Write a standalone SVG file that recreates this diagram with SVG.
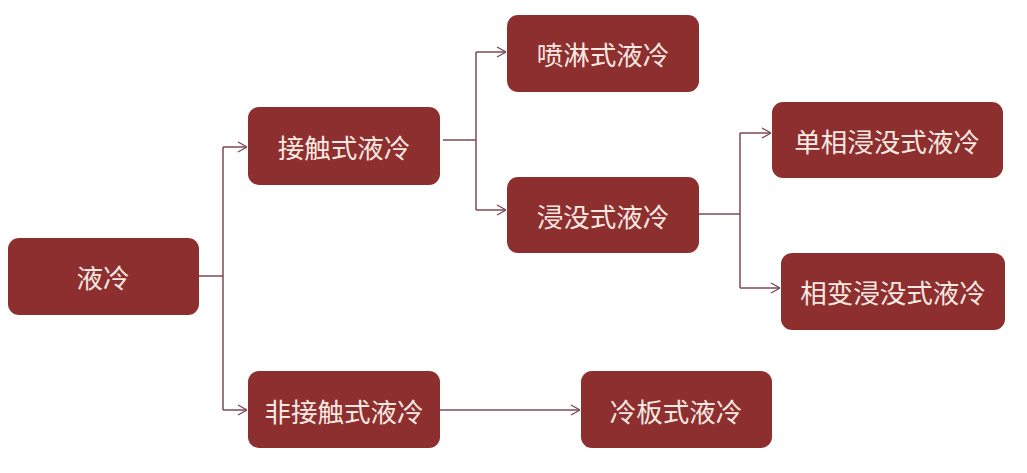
<svg xmlns="http://www.w3.org/2000/svg" width="1027" height="473" viewBox="0 0 1027 473">
<defs>
<marker id="arr" viewBox="0 0 10 12" refX="10" refY="6" markerWidth="10" markerHeight="12" markerUnits="userSpaceOnUse" orient="auto">
<path d="M1,1 L10,6 L1,11" fill="none" stroke="#7d4a52" stroke-width="1.4"/>
</marker>
</defs>
<style>
.box{fill:#8e2f2f;}
.t{font-family:"Noto Sans CJK SC","Noto Sans",sans-serif;font-size:26.5px;font-weight:400;fill:#f7e9e2;text-anchor:middle;dominant-baseline:central;}
.c{fill:none;stroke:#7d4a52;stroke-width:1.5;}
</style>
<rect width="1027" height="473" fill="#ffffff"/>
<g id="connectors">
<path class="c" d="M199,276 H223"/>
<path class="c" d="M223,147 V410"/>
<path class="c" d="M223,147 H247" marker-end="url(#arr)"/>
<path class="c" d="M223,410 H247" marker-end="url(#arr)"/>
<path class="c" d="M443,140 H476"/>
<path class="c" d="M476,52 V210"/>
<path class="c" d="M476,52 H506" marker-end="url(#arr)"/>
<path class="c" d="M476,210 H506" marker-end="url(#arr)"/>
<path class="c" d="M698,214 H740"/>
<path class="c" d="M740,133 V288"/>
<path class="c" d="M740,133 H771" marker-end="url(#arr)"/>
<path class="c" d="M740,288 H780" marker-end="url(#arr)"/>
<path class="c" d="M440,410 H580" marker-end="url(#arr)"/>
</g>
<g id="n1"><rect class="box" x="8" y="238" width="191" height="77" rx="11"/><text class="t" x="103" y="276">液冷</text></g>
<g id="n2"><rect class="box" x="248" y="107" width="192" height="78" rx="11"/><text class="t" x="344" y="146">接触式液冷</text></g>
<g id="n3"><rect class="box" x="248" y="371" width="192" height="77" rx="11"/><text class="t" x="344" y="410">非接触式液冷</text></g>
<g id="n4"><rect class="box" x="507" y="15" width="192" height="77" rx="11"/><text class="t" x="603" y="53">喷淋式液冷</text></g>
<g id="n5"><rect class="box" x="507" y="177" width="192" height="76" rx="11"/><text class="t" x="603" y="215">浸没式液冷</text></g>
<g id="n6"><rect class="box" x="772" y="102" width="231" height="76" rx="11"/><text class="t" x="887" y="140">单相浸没式液冷</text></g>
<g id="n7"><rect class="box" x="781" y="253" width="224" height="77" rx="11"/><text class="t" x="893" y="291">相变浸没式液冷</text></g>
<g id="n8"><rect class="box" x="581" y="371" width="191" height="77" rx="11"/><text class="t" x="676" y="410">冷板式液冷</text></g>
</svg>
